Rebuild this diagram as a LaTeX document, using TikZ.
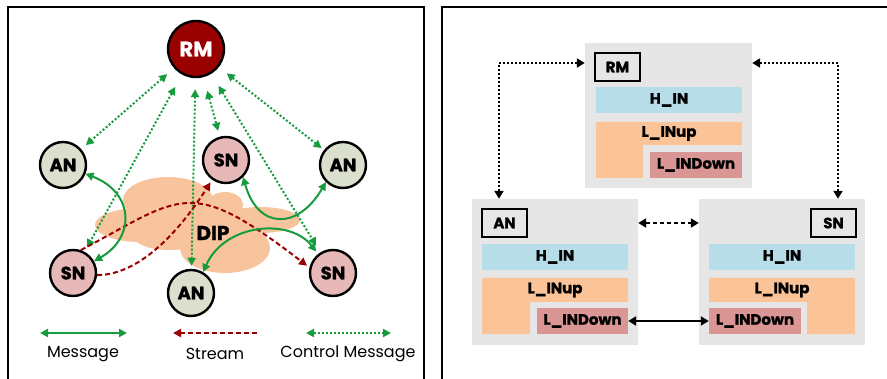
\documentclass[tikz,border=0pt]{standalone}
\usepackage{fontspec}
\setmainfont{Poppins}[BoldFeatures={FakeBold=1.2}]
\usetikzlibrary{arrows.meta,calc}
\definecolor{msggreen}{RGB}{22,155,62}
\definecolor{strred}{RGB}{155,0,0}
\definecolor{rmfill}{RGB}{153,0,0}
\definecolor{anfill}{RGB}{218,224,205}
\definecolor{snfill}{RGB}{230,185,184}
\definecolor{cloudc}{RGB}{248,196,158}
\definecolor{hinc}{RGB}{183,222,232}
\definecolor{lupc}{RGB}{250,196,152}
\definecolor{ldownc}{RGB}{217,150,148}
\definecolor{boxgrey}{RGB}{230,230,230}
\tikzset{
  netnode/.style={circle,draw=black,line width=2.4pt,minimum size=46pt,inner sep=0pt,font=\fontsize{18}{18}\selectfont\bfseries},
  annode/.style={netnode,fill=anfill},
  snnode/.style={netnode,fill=snfill},
  rmnode/.style={netnode,fill=rmfill,minimum size=56pt,text=white,font=\fontsize{21}{21}\selectfont\bfseries},
  ctrl/.style={draw=msggreen,line width=2pt,dash pattern=on 2pt off 2pt,{Triangle[length=8pt,width=8pt]}-{Triangle[length=8pt,width=8pt]}},
  msg/.style={draw=msggreen,line width=2pt,{Triangle[length=8pt,width=8pt]}-{Triangle[length=8pt,width=8pt]}},
  strm/.style={draw=strred,line width=2pt,dash pattern=on 5pt off 3pt,-{Triangle[length=8pt,width=8pt]}},
  legtext/.style={font=\fontsize{16}{16}\selectfont},
  greybox/.style={fill=boxgrey,draw=none},
  labbox/.style={draw=black,line width=2pt,fill=boxgrey,minimum width=45pt,minimum height=28pt,inner sep=0pt,font=\fontsize{15}{15}\selectfont\bfseries},
  barbox/.style={draw=none,inner sep=0pt,font=\fontsize{15}{15}\selectfont\bfseries},
  blk/.style={draw=black,line width=2pt},
  bhead/.style={{Triangle[length=8pt,width=9pt]}-{Triangle[length=8pt,width=9pt]}},
}
\begin{document}
\begin{tikzpicture}[x=1pt,y=1pt]
\useasboundingbox (0,0) rectangle (887,378);
\begin{scope}
\clip (0,0) rectangle (887,378);
\draw[line width=2.5pt] (8,-10) -- (8,371) -- (424,371) -- (424,-10);
\draw[line width=2.5pt] (442,-10) -- (442,371) -- (900,371);
\end{scope}

% ---------- cloud ----------
\fill[cloudc] (140,153) ellipse [x radius=45,y radius=17];
\fill[cloudc] (168,178) ellipse [x radius=45,y radius=23];
\fill[cloudc] (225,173) ellipse [x radius=18,y radius=13];
\fill[cloudc] (260,158) ellipse [x radius=40,y radius=13];
\fill[cloudc] (225,130) ellipse [x radius=45,y radius=25];
\fill[cloudc] (170,140) ellipse [x radius=35,y radius=12];
\fill[cloudc] (200,153) ellipse [x radius=60,y radius=20];
\node[font=\fontsize{20}{20}\selectfont\bfseries] (dip) at (213,145) {DIP};

% ---------- nodes ----------
\node[rmnode] (RM) at (196,329) {RM};
\node[annode] (ANl) at (63,213) {AN};
\node[snnode] (SNt) at (226,218) {SN};
\node[annode] (ANr) at (343,213) {AN};
\node[snnode] (SNl) at (73,105) {SN};
\node[annode] (ANb) at (191,85) {AN};
\node[snnode] (SNr) at (333,105) {SN};

% ---------- control messages ----------
\draw[ctrl,shorten <=9pt,shorten >=6pt] (RM) -- (ANl);
\draw[ctrl,shorten <=14pt,shorten >=5pt] (RM) -- (SNl);
\draw[ctrl,shorten <=11pt,shorten >=3pt] (RM) -- (ANb);
\draw[ctrl,shorten <=14pt,shorten >=6pt] (RM) -- (SNt);
\draw[ctrl,shorten <=14pt,shorten >=8pt] (RM) -- (SNr);
\draw[ctrl,shorten <=10pt,shorten >=3pt] (RM) -- (ANr);

% ---------- streams ----------
\draw[strm,shorten >=3pt] (SNl.71) .. controls (183,182) and (189,203) .. (SNr.167);
\draw[strm,shorten >=3pt] (SNl.-5) .. controls (143,103) and (184,154) .. (SNt.-125);

% ---------- messages ----------
\draw[msg] (ANl) .. controls (135,185) and (135,140) .. (SNl);
\draw[msg] (SNt.-45) .. controls (258,148) and (298,148) .. (ANr.-135);
\draw[msg,shorten >=3pt] (ANb.60) .. controls (225,155) and (290,160) .. (SNr.128);

% ---------- legend ----------
\coordinate (m1) at (40,45); \coordinate (m2) at (127,45);
\coordinate (s1) at (257,45); \coordinate (s2) at (173,45);
\coordinate (c1) at (306,45); \coordinate (c2) at (391,45);
\draw[msg] (m1) -- (m2);
\draw[strm] (s1) -- (s2);
\draw[ctrl] (c1) -- (c2);
\node[legtext] (lm) at (83,24) {Message};
\node[legtext] (ls) at (215,24) {Stream};
\node[legtext] (lc) at (348,24) {Control Message};

% ---------- right panel ----------
% RM box
\node[greybox,minimum width=167pt,minimum height=145pt,inner sep=0pt] (RMbox) at (668.5,262.5) {};
\node[labbox] (RMlab) at (617.5,311) {RM};
\node[barbox,fill=hinc,minimum width=146pt,minimum height=26pt] (RMh) at (669,278) {H\_IN};
\fill[lupc] (596,256) -- (742,256) -- (742,233) -- (643,233) -- (643,200) -- (596,200) -- cycle;
\node[barbox,minimum width=146pt,minimum height=23pt] (RMup) at (669,244.5) {L\_INup};
\node[barbox,fill=ldownc,minimum width=92pt,minimum height=26pt] (RMdown) at (696,213) {L\_INDown};

% AN box
\node[greybox,minimum width=166pt,minimum height=146pt,inner sep=0pt] (ANbox) at (555,106) {};
\node[labbox] (ANlab) at (504.5,155) {AN};
\node[barbox,fill=hinc,minimum width=146pt,minimum height=26pt] (ANh) at (555,121) {H\_IN};
\fill[lupc] (482,100) -- (628,100) -- (628,76) -- (530,76) -- (530,44) -- (482,44) -- cycle;
\node[barbox,minimum width=146pt,minimum height=24pt] (ANup) at (555,88) {L\_INup};
\node[barbox,fill=ldownc,minimum width=91pt,minimum height=26pt] (ANdown) at (582.5,57) {L\_INDown};

% SN box
\node[greybox,minimum width=166pt,minimum height=146pt,inner sep=0pt] (SNbox) at (782,106) {};
\node[labbox] (SNlab) at (833.5,155) {SN};
\node[barbox,fill=hinc,minimum width=146pt,minimum height=26pt] (SNh) at (782,121) {H\_IN};
\fill[lupc] (709,100) -- (855,100) -- (855,44) -- (807,44) -- (807,76) -- (709,76) -- cycle;
\node[barbox,minimum width=146pt,minimum height=24pt] (SNup) at (782,88) {L\_INup};
\node[barbox,fill=ldownc,minimum width=92pt,minimum height=26pt] (SNdown) at (755,57) {L\_INDown};

% connectors
\coordinate (k1) at (499,315);
\coordinate (k2) at (838,315);
\coordinate (k3) at (668,155);
\draw[blk,bhead,dash pattern=on 2pt off 2pt] (RMbox.west |- k1) -| (ANbox.north -| k1);
\draw[blk,bhead,dash pattern=on 2pt off 2pt] (RMbox.east |- k2) -| (SNbox.north -| k2);
\draw[blk,bhead,dash pattern=on 4pt off 3pt] (ANbox.east |- k3) -- (SNbox.west |- k3);
\draw[blk,bhead] (ANdown.east) -- (SNdown.west);
\end{tikzpicture}
\end{document}
